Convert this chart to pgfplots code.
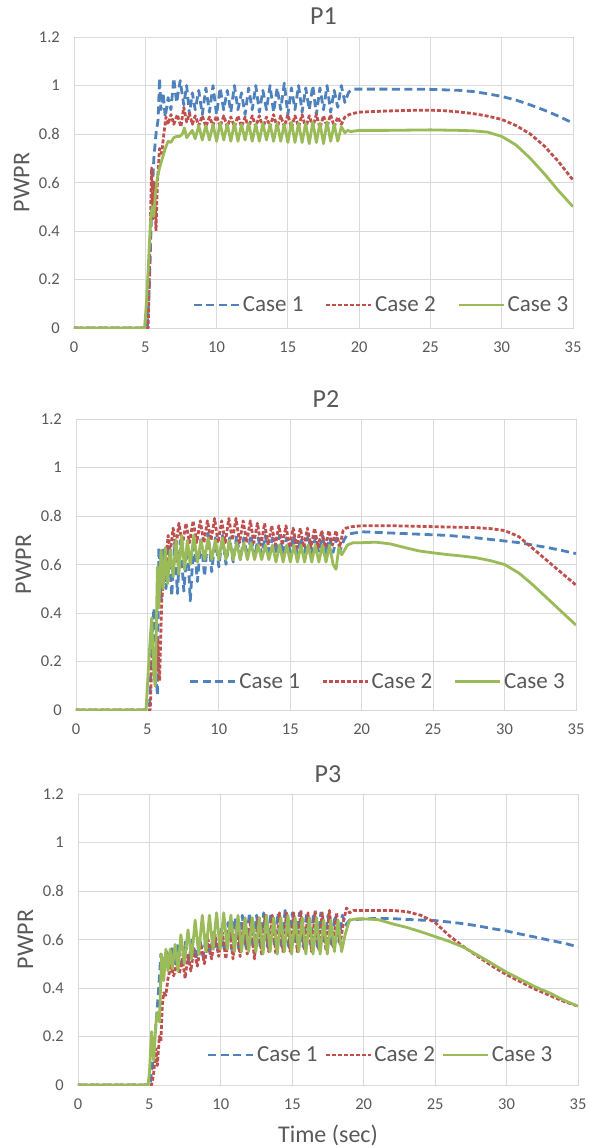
\documentclass[border=0pt]{standalone}
\usepackage{pgfplots}
\pgfplotsset{compat=1.18}
\usepackage{fontspec}
\setmainfont{Carlito}
\definecolor{cA}{HTML}{4F81BD}
\definecolor{cB}{HTML}{C0504D}
\definecolor{cC}{HTML}{9BBB59}
\definecolor{lab}{HTML}{595959}
\definecolor{grd}{HTML}{D9D9D9}
\pgfplotsset{
  panel/.style={
    scale only axis, height=291pt,
    xmin=0, xmax=35, ymin=0, ymax=1.2,
    xtick={0,5,10,15,20,25,30,35},
    xticklabels={0,5,10,15,20,25,30,35},
    ytick={0,0.2,0.4,0.6,0.8,1,1.2},
    yticklabels={0,0.2,0.4,0.6,0.8,1,1.2},
    grid=major, major grid style={draw=grd, line width=0.8pt},
    axis line style={draw=grd, line width=0.8pt},
    major tick length=0pt, tick style={draw=none},
    ticklabel style={font=\fontsize{16.5}{17}\selectfont, text=lab},
    yticklabel style={inner sep=0pt, xshift=-14pt},
    xticklabel style={inner sep=0pt, yshift=-14pt},
    title style={font=\fontsize{26}{26}\selectfont, text=lab, at={(axis description cs:0.5,1)}, anchor=base, yshift=6pt},
    ylabel={PWPR},
    ylabel style={font=\fontsize{24}{24}\selectfont, text=lab, at={(axis description cs:-0.105,0.5)}, anchor=center},
    legend columns=3,
    legend image code/.code={\draw[#1] (0pt,0pt) -- (45pt,0pt);},
    legend style={draw=none, fill=none, inner sep=0pt, anchor=west,
      font=\fontsize{23}{23}\selectfont, text=lab,
      nodes={inner sep=2.5pt}},
    every axis plot/.append style={line width=2.8pt, line join=round},
  },
  s1/.style={cA, dash pattern=on 8pt off 4.5pt},
  s2/.style={cB, dash pattern=on 4pt off 2pt},
  s3/.style={cC},
}
\begin{document}
\begin{tikzpicture}
% ---------------- P1 ----------------
\begin{axis}[panel, name=p1, at={(0pt,0pt)}, anchor=south west, width=499pt, title={P1},
  legend style={at={(axis cs:8.3,0.095)}, /tikz/every even column/.append style={column sep=19pt}}]
\addplot[s1] table {
0 0
5.15 0
5.3 0.2
5.45 0.5
5.6 0.7
5.75 0.8
5.9 0.86
6.0 1.03
6.1 0.9
6.25 0.97
6.4 0.87
6.6 0.95
6.8 0.9
7.0 1.03
7.2 0.93
7.45 1.02
7.7 0.92
7.9 1.0
8.1 0.88
8.3 0.97
8.5 0.9
8.75 0.98
9.0 0.88
9.25 0.99
9.5 0.89
9.75 1.0
10.0 0.88
10.25 0.99
10.5 0.9
10.75 0.98
11.0 0.89
11.25 1.0
11.5 0.9
11.75 0.97
12.0 0.88
12.25 0.99
12.5 0.9
12.75 1.0
13.0 0.89
13.25 0.98
13.5 0.9
13.75 1.0
14.0 0.89
14.25 0.99
14.5 0.9
14.75 1.01
15.0 0.88
15.25 0.99
15.5 0.9
15.75 1.0
16.0 0.89
16.25 0.99
16.5 0.9
16.75 1.0
17.0 0.88
17.25 0.99
17.5 0.9
17.75 1.0
18.0 0.89
18.25 0.98
18.5 0.91
18.75 1.0
19.0 0.93
19.25 0.97
19.5 0.985
20 0.985
22 0.985
25 0.984
27 0.98
28 0.975
29 0.966
30 0.955
31 0.94
32 0.92
33 0.898
34 0.873
35 0.845
};
\addlegendentry{Case 1}
\addplot[s2] table {
0 0
5.2 0
5.3 0.25
5.4 0.55
5.45 0.66
5.55 0.45
5.65 0.6
5.75 0.4
5.85 0.6
6.0 0.74
6.15 0.72
6.3 0.8
6.45 0.87
6.6 0.84
6.8 0.88
7.0 0.84
7.25 0.88
7.5 0.83
7.7 0.91
7.9 0.85
8.1 0.885
8.3 0.84
8.5 0.875
8.75 0.835
9.0 0.875
9.25 0.83
9.5 0.87
9.75 0.835
10.0 0.875
10.25 0.83
10.5 0.875
10.75 0.83
11.0 0.87
11.25 0.83
11.5 0.875
11.75 0.83
12.0 0.87
12.25 0.825
12.5 0.875
12.75 0.83
13.0 0.875
13.25 0.825
13.5 0.87
13.75 0.83
14.0 0.88
14.25 0.825
14.5 0.875
14.75 0.83
15.0 0.88
15.25 0.825
15.5 0.875
15.75 0.83
16.0 0.88
16.25 0.825
16.5 0.875
16.75 0.83
17.0 0.88
17.25 0.825
17.5 0.875
17.75 0.83
18.0 0.88
18.25 0.83
18.5 0.87
18.75 0.84
19.0 0.87
19.3 0.88
19.6 0.885
20 0.89
22 0.895
24 0.898
25 0.898
26 0.896
27 0.891
28 0.884
29 0.874
30 0.86
31 0.835
32 0.8
33 0.75
34 0.685
35 0.61
};
\addlegendentry{Case 2}
\addplot[s3] table {
0 0
4.95 0
5.1 0.12
5.25 0.3
5.4 0.47
5.5 0.5
5.6 0.46
5.7 0.55
5.85 0.62
6.0 0.66
6.2 0.7
6.4 0.74
6.6 0.77
6.8 0.765
7.0 0.785
7.2 0.79
7.4 0.79
7.6 0.8
7.75 0.825
7.9 0.785
8.1 0.8
8.3 0.815
8.5 0.78
8.75 0.835
9.0 0.775
9.25 0.835
9.5 0.775
9.75 0.84
10.0 0.77
10.25 0.845
10.5 0.775
10.75 0.84
11.0 0.77
11.25 0.845
11.5 0.77
11.75 0.84
12.0 0.775
12.25 0.845
12.5 0.77
12.75 0.84
13.0 0.77
13.25 0.845
13.5 0.775
13.75 0.84
14.0 0.77
14.25 0.845
14.5 0.77
14.75 0.84
15.0 0.765
15.25 0.85
15.5 0.765
15.75 0.845
16.0 0.765
16.25 0.845
16.5 0.76
16.75 0.85
17.0 0.765
17.25 0.845
17.5 0.76
17.75 0.85
18.0 0.77
18.25 0.84
18.5 0.77
18.75 0.83
19.0 0.805
19.2 0.815
19.4 0.81
20 0.815
22 0.815
25 0.817
27 0.815
28 0.813
29 0.808
30 0.79
31 0.755
32 0.7
33 0.635
34 0.565
35 0.5
};
\addlegendentry{Case 3}
\end{axis}
% ---------------- P2 ----------------
\begin{axis}[panel, name=p2, at={(2pt,-382pt)}, anchor=south west, width=500pt, title={P2},
  legend style={at={(axis cs:7.9,0.117)}, /tikz/every even column/.append style={column sep=19pt}}]
\addplot[s1] table {
0 0
5.0 0
5.15 0.02
5.3 0.25
5.45 0.42
5.6 0.15
5.7 0.06
5.8 0.67
5.95 0.45
6.1 0.66
6.3 0.5
6.5 0.68
6.7 0.47
6.9 0.69
7.1 0.48
7.3 0.7
7.55 0.49
7.8 0.69
8.0 0.45
8.25 0.7
8.5 0.53
8.75 0.71
9.0 0.55
9.25 0.73
9.5 0.57
9.75 0.71
10.0 0.59
10.25 0.72
10.5 0.6
10.75 0.71
11.0 0.61
11.25 0.72
11.5 0.62
11.75 0.71
12.0 0.63
12.25 0.72
12.5 0.63
12.75 0.71
13.0 0.64
13.25 0.72
13.5 0.63
13.75 0.71
14.0 0.64
14.25 0.72
14.5 0.64
14.75 0.71
15.0 0.65
15.25 0.72
15.5 0.64
15.75 0.71
16.0 0.65
16.25 0.72
16.5 0.64
16.75 0.71
17.0 0.65
17.25 0.72
17.5 0.64
17.75 0.71
18.0 0.65
18.25 0.71
18.5 0.66
18.75 0.7
19.0 0.725
19.5 0.73
20 0.735
22 0.73
24 0.725
26 0.72
28 0.71
30 0.697
31 0.69
32 0.68
33 0.67
34 0.658
35 0.645
};
\addlegendentry{Case 1}
\addplot[s2] table {
0 0
5.2 0
5.3 0.2
5.45 0.25
5.55 0.1
5.7 0.3
5.85 0.12
6.0 0.45
6.15 0.55
6.3 0.62
6.45 0.72
6.6 0.65
6.8 0.75
7.0 0.67
7.2 0.77
7.45 0.68
7.7 0.77
7.95 0.69
8.2 0.78
8.45 0.69
8.7 0.78
8.95 0.69
9.2 0.78
9.45 0.7
9.7 0.79
9.95 0.69
10.2 0.78
10.45 0.69
10.7 0.79
10.95 0.7
11.2 0.79
11.45 0.69
11.7 0.78
11.95 0.69
12.2 0.78
12.45 0.69
12.7 0.77
12.95 0.68
13.2 0.77
13.45 0.68
13.7 0.76
13.95 0.68
14.2 0.76
14.45 0.68
14.7 0.76
14.95 0.67
15.2 0.75
15.45 0.67
15.7 0.75
15.95 0.67
16.2 0.75
16.45 0.67
16.7 0.75
16.95 0.67
17.2 0.74
17.45 0.67
17.7 0.74
17.95 0.68
18.2 0.74
18.45 0.67
18.7 0.74
18.9 0.75
19.2 0.755
20 0.76
22 0.76
25 0.756
28 0.752
29 0.748
30 0.74
31 0.715
32 0.665
33 0.615
34 0.565
35 0.515
};
\addlegendentry{Case 2}
\addplot[s3] table {
0 0
4.9 0
5.05 0.15
5.2 0.3
5.3 0.38
5.45 0.15
5.55 0.1
5.7 0.59
5.8 0.42
5.95 0.66
6.1 0.5
6.25 0.67
6.4 0.52
6.6 0.66
6.8 0.55
7.0 0.7
7.2 0.56
7.4 0.72
7.6 0.58
7.8 0.7
8.0 0.6
8.25 0.72
8.5 0.61
8.75 0.7
9.0 0.62
9.25 0.71
9.5 0.62
9.75 0.7
10.0 0.62
10.25 0.71
10.5 0.62
10.75 0.7
11.0 0.62
11.25 0.69
11.5 0.62
11.75 0.69
12.0 0.62
12.25 0.69
12.5 0.62
12.75 0.68
13.0 0.62
13.25 0.68
13.5 0.62
13.75 0.68
14.0 0.61
14.25 0.68
14.5 0.61
14.75 0.68
15.0 0.61
15.25 0.68
15.5 0.61
15.75 0.68
16.0 0.61
16.25 0.68
16.5 0.61
16.75 0.68
17.0 0.61
17.25 0.68
17.5 0.61
17.75 0.68
18.0 0.6
18.2 0.58
18.4 0.67
18.6 0.64
18.8 0.66
19.0 0.68
19.4 0.69
20 0.69
21 0.692
22 0.685
23 0.67
24 0.656
25 0.648
26 0.641
27 0.635
28 0.628
29 0.616
30 0.6
31 0.565
32 0.515
33 0.46
34 0.405
35 0.35
};
\addlegendentry{Case 3}
\end{axis}
% ---------------- P3 ----------------
\begin{axis}[panel, name=p3, at={(4pt,-757pt)}, anchor=south west, width=500pt, title={P3},
  xlabel={Time (sec)},
  xlabel style={font=\fontsize{24}{24}\selectfont, text=lab, at={(axis description cs:0.5,-0.196)}, anchor=base},
  legend style={at={(axis cs:9.0,0.124)}, /tikz/every even column/.append style={column sep=4pt}}]
\addplot[s1] table {
0 0
5.05 0
5.2 0.08
5.35 0.18
5.5 0.28
5.65 0.4
5.8 0.54
6.0 0.5
6.2 0.55
6.4 0.52
6.6 0.57
6.8 0.5
7.0 0.58
7.25 0.5
7.5 0.59
7.75 0.51
8.0 0.6
8.25 0.52
8.5 0.61
8.75 0.53
9.0 0.62
9.25 0.54
9.5 0.63
9.75 0.55
10.0 0.65
10.25 0.55
10.5 0.67
10.75 0.56
11.0 0.69
11.25 0.56
11.5 0.7
11.75 0.56
12.0 0.71
12.25 0.57
12.5 0.7
12.75 0.57
13.0 0.71
13.25 0.57
13.5 0.71
13.75 0.58
14.0 0.71
14.25 0.57
14.5 0.72
14.75 0.57
15.0 0.71
15.25 0.58
15.5 0.71
15.75 0.57
16.0 0.71
16.25 0.58
16.5 0.71
16.75 0.57
17.0 0.71
17.25 0.58
17.5 0.7
17.75 0.58
18.0 0.7
18.25 0.59
18.5 0.7
18.75 0.66
19.0 0.68
20 0.685
21 0.687
22 0.686
24 0.68
25 0.678
26 0.672
27 0.665
28 0.656
29 0.645
30 0.635
31 0.622
32 0.61
33 0.597
34 0.585
35 0.57
};
\addlegendentry{Case 1}
\addplot[s2] table {
0 0
5.15 0
5.3 0.05
5.45 0.15
5.55 0.08
5.7 0.2
5.8 0.18
5.9 0.33
6.0 0.38
6.15 0.37
6.3 0.44
6.5 0.49
6.7 0.45
6.9 0.5
7.1 0.46
7.3 0.52
7.5 0.44
7.7 0.54
7.9 0.47
8.1 0.56
8.35 0.49
8.6 0.58
8.85 0.5
9.1 0.6
9.35 0.52
9.6 0.62
9.85 0.53
10.1 0.63
10.35 0.52
10.6 0.65
10.85 0.52
11.1 0.66
11.35 0.53
11.6 0.67
11.85 0.54
12.1 0.68
12.35 0.52
12.6 0.69
12.85 0.54
13.1 0.7
13.35 0.55
13.6 0.7
13.85 0.54
14.1 0.71
14.35 0.55
14.6 0.71
14.85 0.55
15.1 0.71
15.35 0.55
15.6 0.72
15.85 0.56
16.1 0.71
16.35 0.55
16.6 0.72
16.85 0.56
17.1 0.71
17.35 0.56
17.6 0.72
17.85 0.57
18.1 0.71
18.35 0.58
18.6 0.68
18.8 0.73
19.0 0.71
19.3 0.72
20 0.72
21 0.72
22 0.72
23 0.715
24 0.7
25 0.67
26 0.615
27 0.57
28 0.53
29 0.49
30 0.455
31 0.425
32 0.395
33 0.37
34 0.345
35 0.325
};
\addlegendentry{Case 2}
\addplot[s3] table {
0 0
4.9 0
5.0 0.05
5.15 0.22
5.3 0.1
5.45 0.25
5.55 0.3
5.7 0.26
5.85 0.54
6.0 0.43
6.15 0.56
6.3 0.47
6.45 0.56
6.6 0.48
6.8 0.58
7.0 0.47
7.2 0.62
7.45 0.5
7.7 0.64
7.95 0.52
8.2 0.68
8.45 0.54
8.7 0.7
8.95 0.55
9.2 0.7
9.45 0.56
9.7 0.71
9.95 0.56
10.2 0.71
10.45 0.56
10.7 0.7
10.95 0.55
11.2 0.7
11.45 0.55
11.7 0.69
11.95 0.55
12.2 0.69
12.45 0.55
12.7 0.69
12.95 0.54
13.2 0.7
13.45 0.55
13.7 0.69
13.95 0.54
14.2 0.69
14.45 0.55
14.7 0.7
14.95 0.54
15.2 0.69
15.45 0.55
15.7 0.69
15.95 0.54
16.2 0.69
16.45 0.54
16.7 0.69
16.95 0.54
17.2 0.68
17.45 0.54
17.7 0.68
17.95 0.55
18.2 0.68
18.45 0.55
18.7 0.62
19.0 0.68
19.5 0.685
20 0.685
21 0.682
22 0.665
23 0.65
24 0.632
25 0.612
26 0.592
27 0.568
28 0.535
29 0.5
30 0.465
31 0.435
32 0.405
33 0.38
34 0.35
35 0.325
};
\addlegendentry{Case 3}
\end{axis}
\pgfresetboundingbox
\path[use as bounding box] (-74pt,328pt) rectangle (515pt,-818pt);
\end{tikzpicture}
\end{document}
